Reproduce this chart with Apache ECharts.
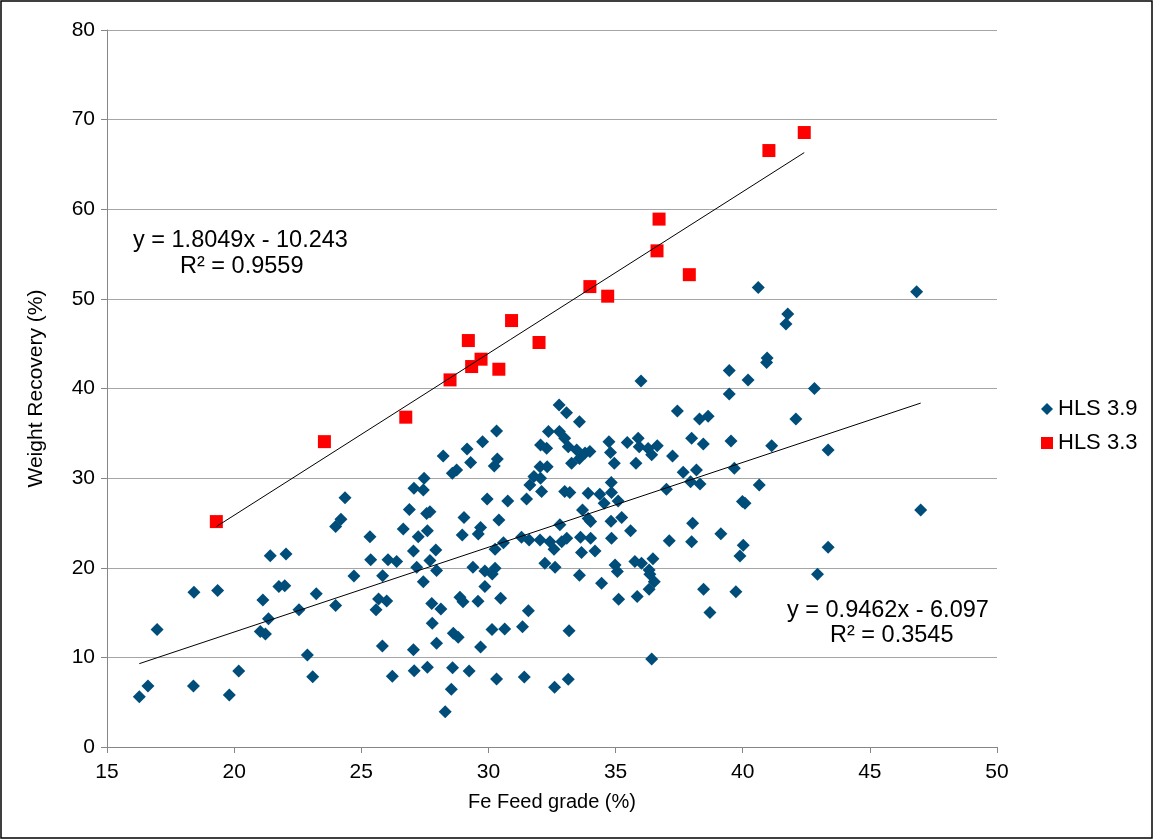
<!DOCTYPE html>
<html>
<head>
<meta charset="utf-8">
<script src="https://cdn.jsdelivr.net/npm/echarts@6/dist/echarts.min.js"></script>
<style>
html,body{margin:0;padding:0;background:#fff;}
#chart{width:1154px;height:840px;}
</style>
</head>
<body>
<div id="chart"></div>
<script>
// ---- data ----
const xTicks = [15, 20, 25, 30, 35, 40, 45, 50];
const yTicks = [0, 10, 20, 30, 40, 50, 60, 70, 80];

const hls39 = [
  [16.97,13.1],[18.42,17.26],[19.35,17.45],[21.13,16.4],[21.76,17.9],[21.99,18.0],[23.23,17.1],
  [21.35,14.3],[22.55,15.3],[23.99,15.8],[21.03,12.9],[21.23,12.6],[22.88,10.27],[23.09,7.85],
  [20.18,8.48],[16.61,6.8],[16.27,5.6],[18.4,6.8],[19.81,5.8],
  [21.42,21.35],[22.04,21.54],[23.99,24.6],
  [24.71,19.08],[25.84,19.1],[25.37,20.9],[26.05,20.9],[26.39,20.7],[25.68,16.5],[26.0,16.3],
  [25.58,15.3],[27.18,20.05],[27.7,20.8],[27.96,19.7],[27.44,18.45],[27.77,16.0],[28.13,15.4],
  [27.79,13.8],[25.83,11.27],[27.05,10.86],[27.96,11.57],[26.22,7.9],[27.08,8.5],[27.6,8.9],
  [28.59,8.85],[28.54,6.44],[28.3,3.94],[29.24,8.48],[29.69,11.16],[28.62,12.69],[28.81,12.24],
  [28.88,16.7],[29.0,16.2],[29.59,16.26],[29.86,17.9],[30.48,16.6],[29.39,20.05],[29.86,19.64],
  [30.15,19.3],[30.26,19.94],[30.14,13.1],[30.64,13.17],[31.34,13.43],[31.57,15.2],[30.32,7.6],
  [31.41,7.8],[32.6,6.66],[32.22,20.5],[32.62,20.05],
  [24.36,27.8],[24.2,25.4],[25.34,23.47],[26.89,26.5],[26.65,24.33],[27.07,28.87],[27.44,28.68],
  [27.47,29.99],[27.57,26.06],[27.7,26.26],[27.6,24.14],[27.24,23.47],[27.05,21.87],[27.93,21.99],
  [28.22,32.48],[28.58,30.55],[28.75,30.9],[29.16,33.26],[29.3,31.73],[29.77,34.07],[30.32,35.27],
  [30.35,32.14],[30.23,31.36],[32.36,35.19],[32.05,33.7],[32.29,33.33],[32.03,31.28],[32.31,31.28],
  [31.79,30.17],[32.05,29.99],[31.63,29.24],[32.09,28.5],[29.95,27.68],[30.76,27.46],[31.5,27.68],
  [29.04,25.6],[30.41,25.33],[29.69,24.5],[29.6,23.77],[28.97,23.66],[30.59,22.8],[30.26,22.06],
  [31.3,23.4],[31.6,23.1],[32.03,23.1],[32.42,22.9],[32.58,22.06],
  [33.58,36.3],[38.3,36.6],[38.64,36.9],[32.79,35.2],[33.0,34.45],[33.14,33.5],[33.47,33.15],
  [33.58,32.2],[33.27,31.66],[33.99,32.96],[33.8,32.8],[34.74,34.07],[34.8,32.85],[34.95,31.66],
  [35.46,33.97],[35.89,34.45],[35.93,33.5],[35.8,31.66],[36.28,33.3],[36.42,32.6],[36.64,33.6],
  [37.24,32.48],[37.99,34.45],[38.45,33.8],[39.54,34.15],[41.14,33.6],[37.66,30.66],[38.18,30.9],
  [37.95,29.6],[38.32,29.35],[39.67,31.1],[40.65,29.24],[39.99,27.38],[40.09,27.2],[37.0,28.76],
  [34.83,29.5],[33.0,28.5],[33.2,28.4],[33.92,28.3],[34.38,28.2],[34.84,28.4],[34.55,27.2],
  [35.1,27.46],[33.7,26.45],[33.92,25.5],[34.02,25.15],[34.82,25.2],[35.24,25.6],[32.81,24.8],
  [35.59,24.14],[38.03,24.97],[39.14,23.8],[33.62,23.4],[34.02,23.3],[34.84,23.3],[32.88,22.9],
  [33.08,23.3],[33.66,21.7],[34.19,21.87],[37.11,23.0],[37.99,22.9],[40.02,22.5],[39.89,21.3],
  [33.58,19.16],[34.98,20.3],[35.07,19.57],[34.45,18.27],[35.12,16.48],[35.85,16.78],[35.76,20.7],
  [36.02,20.5],[36.32,19.75],[36.35,19.27],[36.52,18.45],[36.32,17.6],[36.47,21.0],[33.17,12.98],
  [36.42,9.82],[33.14,7.56],[38.46,17.6],[39.73,17.33],[38.71,15.0],
  [42.09,36.6],[43.36,33.15],[47.0,26.45],[43.36,22.3],[42.94,19.27],
  [32.78,38.17],[33.07,37.3],[40.61,51.26],[41.77,48.3],[41.7,47.2],[40.96,43.4],[40.94,42.9],
  [39.47,42.0],[40.21,40.96],[36.0,40.85],[39.47,39.4],[42.82,40.0],[37.43,37.5],[46.84,50.8]
];

const hls33 = [
  [19.3,25.15],[23.55,34.07],[26.75,36.8],[28.49,40.96],[29.21,45.35],[29.34,42.45],[29.71,43.27],
  [30.41,42.15],[30.91,47.58],[31.99,45.13],[33.99,51.37],[34.69,50.3],[36.63,55.36],[36.71,58.9],
  [37.9,52.7],[41.03,66.55],[42.42,68.56]
];

// linear trendlines (Excel): slope, intercept, x-range
const trend39 = {slope: 0.9462, intercept: -6.097, xFrom: 16.27, xTo: 47.0, r2: 0.3545};
const trend33 = {slope: 1.8049, intercept: -10.243, xFrom: 19.3, xTo: 42.42, r2: 0.9559};

function trendLine(t){
  return [[t.xFrom, t.slope*t.xFrom + t.intercept],[t.xTo, t.slope*t.xTo + t.intercept]];
}
function eqText(t){
  const s = t.intercept < 0 ? ' - ' + Math.abs(t.intercept) : ' + ' + t.intercept;
  return 'y = ' + t.slope + 'x' + s;
}

const FONT = 'Liberation Sans, Arial, sans-serif';
const chart = echarts.init(document.getElementById('chart'));
chart.setOption({
  animation: false,
  backgroundColor: '#fff',
  grid: {left: 107, right: 157, top: 30, bottom: 93, containLabel: false},
  xAxis: {
    type: 'value', min: 15, max: 50, interval: 5,
    name: 'Fe Feed grade (%)', nameLocation: 'middle', nameGap: 45,
    nameTextStyle: {color: '#000', fontSize: 20, fontFamily: FONT},
    axisLine: {show: true, lineStyle: {color: '#868686', width: 1}},
    axisTick: {show: true, length: 6, lineStyle: {color: '#868686'}},
    axisLabel: {color: '#000', fontSize: 21, fontFamily: FONT, margin: 15},
    splitLine: {show: false}
  },
  yAxis: {
    type: 'value', min: 0, max: 80, interval: 10,
    name: 'Weight Recovery (%)', nameLocation: 'middle', nameGap: 60, nameRotate: 90,
    nameTextStyle: {color: '#000', fontSize: 21, fontFamily: FONT},
    axisLine: {show: true, lineStyle: {color: '#868686', width: 1}},
    axisTick: {show: true, length: 6, lineStyle: {color: '#868686'}},
    axisLabel: {color: '#000', fontSize: 21, fontFamily: FONT, margin: 12},
    splitLine: {show: true, lineStyle: {color: '#a6a6a6', width: 1}}
  },
  legend: {
    orient: 'vertical', left: 1036, top: 393, itemGap: 12,
    itemWidth: 12, itemHeight: 12,
    textStyle: {color: '#000', fontSize: 22, fontFamily: FONT},
    data: [{name: 'HLS 3.9', icon: 'diamond'}, {name: 'HLS 3.3', icon: 'rect'}]
  },
  series: [
    {name: 'HLS 3.9', type: 'scatter', data: hls39, symbol: 'diamond', symbolSize: 13,
     itemStyle: {color: '#004d7a', opacity: 1}, z: 3},
    {name: 'HLS 3.3', type: 'scatter', data: hls33, symbol: 'rect', symbolSize: 13,
     itemStyle: {color: '#ff0000', opacity: 1}, z: 4},
    {name: 'trend39', type: 'line', data: trendLine(trend39), symbol: 'none',
     lineStyle: {color: '#000', width: 1}, z: 5, silent: true},
    {name: 'trend33', type: 'line', data: trendLine(trend33), symbol: 'none',
     lineStyle: {color: '#000', width: 1}, z: 5, silent: true}
  ],
  graphic: [
    {type: 'rect', shape: {x: 1, y: 1, width: 1151, height: 837},
     style: {fill: 'none', stroke: '#000', lineWidth: 1.5}, silent: true},
    {type: 'text', left: 133, top: 229,
     style: {text: eqText(trend33), fontSize: 23.5, fontFamily: FONT, fill: '#000'}},
    {type: 'text', left: 180, top: 255,
     style: {text: 'R² = ' + trend33.r2, fontSize: 23.5, fontFamily: FONT, fill: '#000'}},
    {type: 'text', left: 787, top: 599,
     style: {text: eqText(trend39), fontSize: 23.5, fontFamily: FONT, fill: '#000'}},
    {type: 'text', left: 830, top: 624,
     style: {text: 'R² = ' + trend39.r2, fontSize: 23.5, fontFamily: FONT, fill: '#000'}}
  ]
});
</script>
</body>
</html>
